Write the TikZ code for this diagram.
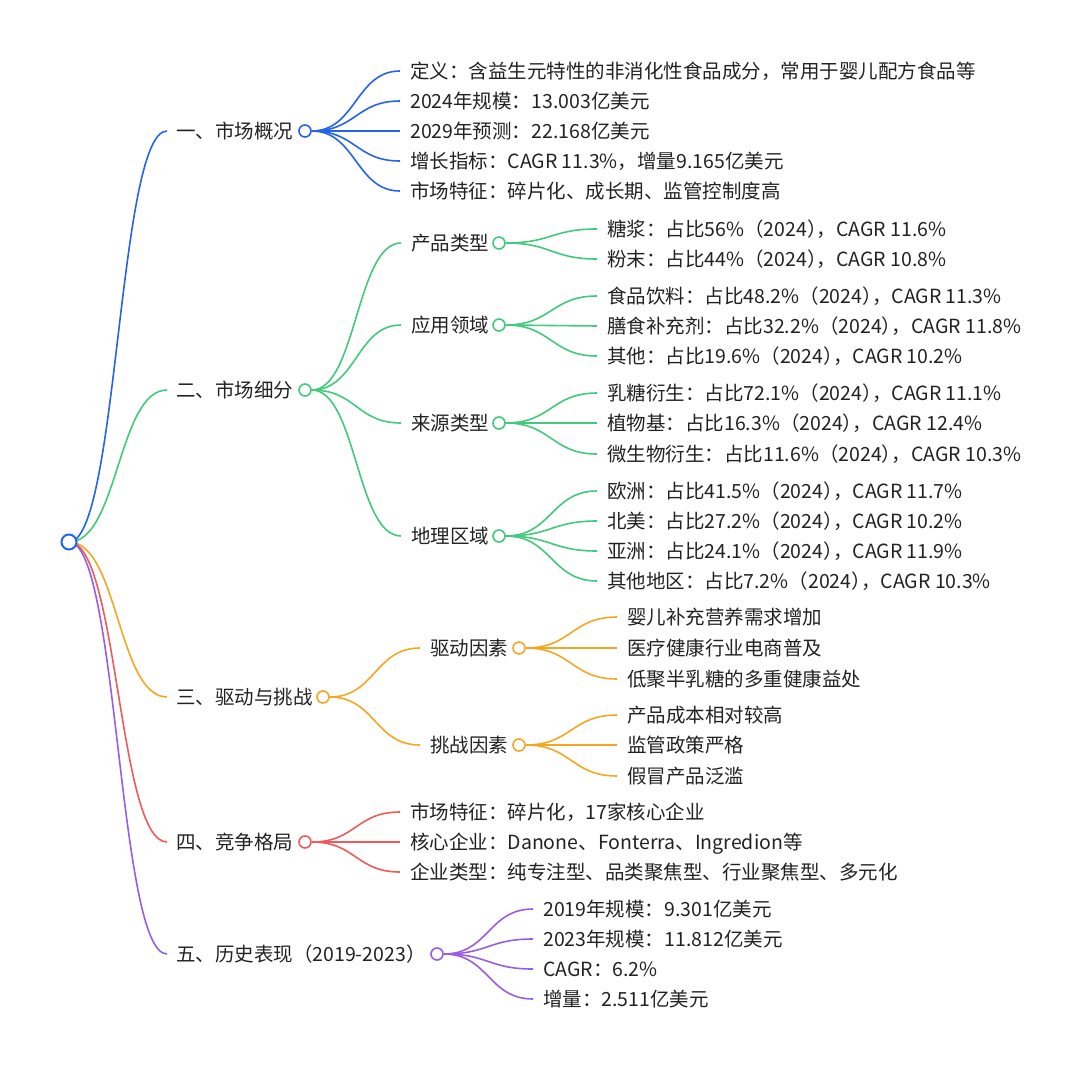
\documentclass[tikz,border=0pt]{standalone}
\usepackage{fontspec}
\setmainfont{Noto Sans CJK SC}
\usetikzlibrary{calc,backgrounds}
\definecolor{cblue}{HTML}{2563EB}
\definecolor{cgreen}{HTML}{42C97B}
\definecolor{corange}{HTML}{F5A623}
\definecolor{cred}{HTML}{EF5B5B}
\definecolor{cpurple}{HTML}{9B5DE0}
\definecolor{tcol}{HTML}{222222}
\newcommand\mmlink[3]{\draw[lnk=#1] let \p1=(#2),\p2=(#3) in (\p1) .. controls ({(\x1+\x2)/2},\y1) and ({(\x1+\x2)/2},\y2) .. (\p2);}
\newcommand\pc{）\kern-.5em，}
\begin{document}
\begin{tikzpicture}[x=1pt,y=-1pt,
 txt/.style={anchor=west,inner xsep=10pt,inner ysep=0pt,text height=17.16pt,text depth=2.34pt,font=\fontsize{19.5pt}{23pt}\selectfont,text=tcol},
 txtA/.style={txt,inner xsep=9pt},
 dot/.style={circle,draw=#1,fill=white,line width=1.6pt,minimum size=12pt,inner sep=0pt},
 lnk/.style={draw=#1,line width=1.6pt}]
\useasboundingbox (0,0) rectangle (1080,1071);
% root
\node[dot=cblue,minimum size=15pt,line width=2pt] (R) at (69,542) {};
% level 1
\node[txtA] (A) at (167,131) {一、市场概况};
\node[dot=cblue] (cA) at (305,131) {};
\node[txtA] (B) at (167,390) {二、市场细分};
\node[dot=cgreen] (cB) at (305,390) {};
\node[txtA] (C) at (167,697) {三、驱动与挑战};
\node[dot=corange] (cC) at (323,697) {};
\node[txtA] (D) at (167,842) {四、竞争格局};
\node[dot=cred] (cD) at (305,842) {};
\node[txtA] (E) at (167,954) {五、历史表现（2019-2023）};
\node[dot=cpurple] (cE) at (437,954) {};
% A leaves
\node[txt] (A1) at (400,71) {定义：含益生元特性的非消化性食品成分，常用于婴儿配方食品等};
\node[txt] (A2) at (400,101) {2024年规模：13.003亿美元};
\node[txt] (A3) at (400,131) {2029年预测：22.168亿美元};
\node[txt] (A4) at (400,161) {增长指标：CAGR 11.3\%，增量9.165亿美元};
\node[txt] (A5) at (400,191) {市场特征：碎片化、成长期、监管控制度高};
% B level 2
\node[txt] (B1) at (401,243) {产品类型};
\node[dot=cgreen] (cB1) at (499,243) {};
\node[txt] (B2) at (401,325) {应用领域};
\node[dot=cgreen] (cB2) at (499,325) {};
\node[txt] (B3) at (401,423) {来源类型};
\node[dot=cgreen] (cB3) at (499,423) {};
\node[txt] (B4) at (401,536) {地理区域};
\node[dot=cgreen] (cB4) at (499,536) {};
% B leaves
\node[txt] (B11) at (597,229) {糖浆：占比56\%（2024\pc CAGR 11.6\%};
\node[txt] (B12) at (597,259) {粉末：占比44\%（2024\pc CAGR 10.8\%};
\node[txt] (B21) at (597,296) {食品饮料：占比48.2\%（2024\pc CAGR 11.3\%};
\node[txt] (B22) at (597,326) {膳食补充剂：占比32.2\%（2024\pc CAGR 11.8\%};
\node[txt] (B23) at (597,356) {其他：占比19.6\%（2024\pc CAGR 10.2\%};
\node[txt] (B31) at (597,393) {乳糖衍生：占比72.1\%（2024\pc CAGR 11.1\%};
\node[txt] (B32) at (597,423) {植物基：占比16.3\%（2024\pc CAGR 12.4\%};
\node[txt] (B33) at (597,454) {微生物衍生：占比11.6\%（2024\pc CAGR 10.3\%};
\node[txt] (B41) at (597,491) {欧洲：占比41.5\%（2024\pc CAGR 11.7\%};
\node[txt] (B42) at (597,521) {北美：占比27.2\%（2024\pc CAGR 10.2\%};
\node[txt] (B43) at (597,551) {亚洲：占比24.1\%（2024\pc CAGR 11.9\%};
\node[txt] (B44) at (597,581) {其他地区：占比7.2\%（2024\pc CAGR 10.3\%};
% C level 2
\node[txt] (C1) at (420,648) {驱动因素};
\node[dot=corange] (cC1) at (519,648) {};
\node[txt] (C2) at (420,745) {挑战因素};
\node[dot=corange] (cC2) at (519,745) {};
% C leaves
\node[txt] (C11) at (617,617) {婴儿补充营养需求增加};
\node[txt] (C12) at (617,648) {医疗健康行业电商普及};
\node[txt] (C13) at (617,679) {低聚半乳糖的多重健康益处};
\node[txt] (C21) at (617,715) {产品成本相对较高};
\node[txt] (C22) at (617,745) {监管政策严格};
\node[txt] (C23) at (617,776) {假冒产品泛滥};
% D leaves
\node[txt] (D1) at (400,812) {市场特征：碎片化，17家核心企业};
\node[txt] (D2) at (400,842) {核心企业：Danone、Fonterra、Ingredion等};
\node[txt] (D3) at (400,872) {企业类型：纯专注型、品类聚焦型、行业聚焦型、多元化};
% E leaves
\node[txt] (E1) at (533,909) {2019年规模：9.301亿美元};
\node[txt] (E2) at (533,939) {2023年规模：11.812亿美元};
\node[txt] (E3) at (533,969) {CAGR：6.2\%};
\node[txt] (E4) at (533,999) {增量：2.511亿美元};
\begin{scope}[on background layer]
\mmlink{cblue}{R.center}{A.west}
\mmlink{cgreen}{R.center}{B.west}
\mmlink{corange}{R.center}{C.west}
\mmlink{cred}{R.center}{D.west}
\mmlink{cpurple}{R.center}{E.west}
\foreach \i in {1,...,5}{\mmlink{cblue}{cA.east}{A\i.west}}
\foreach \i in {1,...,4}{\mmlink{cgreen}{cB.east}{B\i.west}}
\foreach \i in {1,2}{\mmlink{cgreen}{cB1.east}{B1\i.west}}
\foreach \i in {1,2,3}{\mmlink{cgreen}{cB2.east}{B2\i.west}}
\foreach \i in {1,2,3}{\mmlink{cgreen}{cB3.east}{B3\i.west}}
\foreach \i in {1,...,4}{\mmlink{cgreen}{cB4.east}{B4\i.west}}
\foreach \i in {1,2}{\mmlink{corange}{cC.east}{C\i.west}}
\foreach \i in {1,2,3}{\mmlink{corange}{cC1.east}{C1\i.west}}
\foreach \i in {1,2,3}{\mmlink{corange}{cC2.east}{C2\i.west}}
\foreach \i in {1,2,3}{\mmlink{cred}{cD.east}{D\i.west}}
\foreach \i in {1,...,4}{\mmlink{cpurple}{cE.east}{E\i.west}}
\end{scope}
\end{tikzpicture}
\end{document}
